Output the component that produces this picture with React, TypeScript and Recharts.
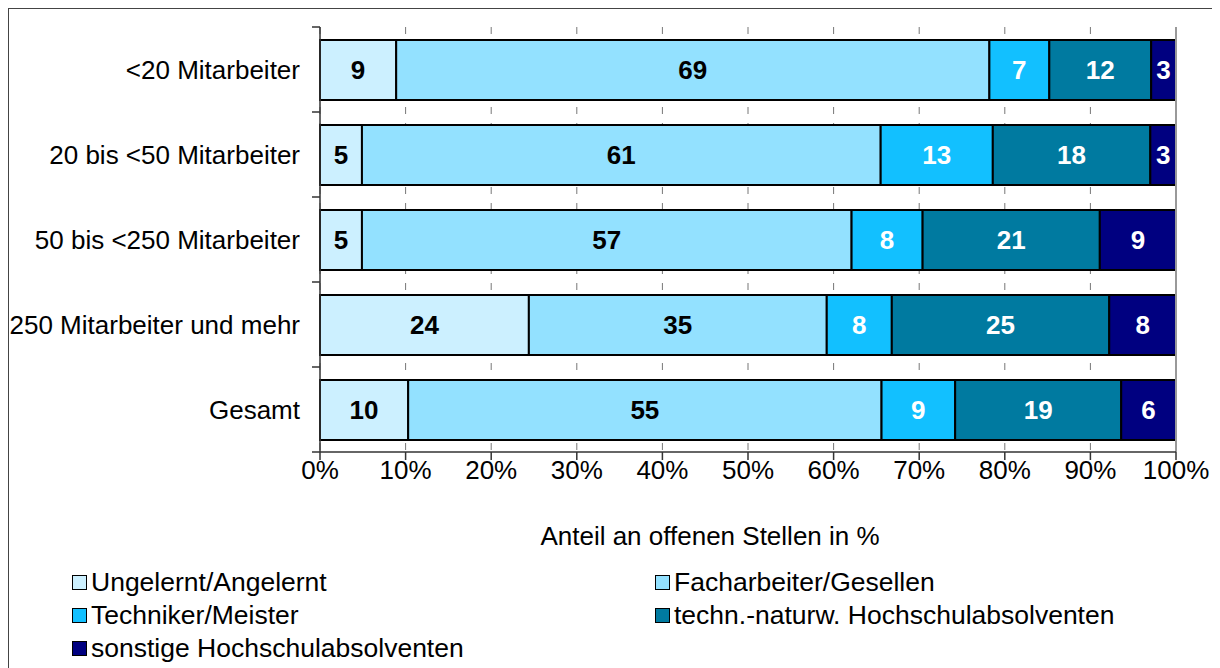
import { Bar, BarChart, CartesianGrid, LabelList, Legend, ReferenceLine, XAxis, YAxis } from "recharts";

// Anteil an offenen Stellen in %
const categories = [
  "<20 Mitarbeiter",
  "20 bis <50 Mitarbeiter",
  "50 bis <250 Mitarbeiter",
  "250 Mitarbeiter und mehr",
  "Gesamt",
];
const ungelernt = [8.9, 4.9, 4.9, 24.4, 10.3];
const facharbeiter = [69.3, 60.6, 57.2, 34.8, 55.3];
const techniker = [7.0, 13.1, 8.3, 7.6, 8.6];
const hochschulTechn = [11.9, 18.4, 20.7, 25.4, 19.4];
const hochschulSonst = [2.9, 3.0, 8.9, 7.8, 6.4];
const xTicks = [0, 10, 20, 30, 40, 50, 60, 70, 80, 90, 100];

const FONT = '"Liberation Sans", Arial, sans-serif';

const series = [
  { key: "u", name: "Ungelernt/Angelernt", fill: "#CCF0FF", text: "#000" },
  { key: "f", name: "Facharbeiter/Gesellen", fill: "#93E1FF", text: "#000" },
  { key: "t", name: "Techniker/Meister", fill: "#12C0FF", text: "#fff" },
  { key: "h", name: "techn.-naturw. Hochschulabsolventen", fill: "#007AA0", text: "#fff" },
  { key: "s", name: "sonstige Hochschulabsolventen", fill: "#000080", text: "#fff" },
];

const data = categories.map((name, i) => ({
  name,
  u: ungelernt[i],
  f: facharbeiter[i],
  t: techniker[i],
  h: hochschulTechn[i],
  s: hochschulSonst[i],
}));

const TICK_SIZE = 8;
const TICK_MARGIN = 12;

function YTick(props: any) {
  const { x, y, payload, index, visibleTicksCount } = props;
  const half = payload && payload.offset ? payload.offset : 42.5;
  const axisX = x + TICK_SIZE + TICK_MARGIN;
  const last = index === visibleTicksCount - 1;
  return (
    <g>
      <line x1={axisX - TICK_SIZE} x2={axisX} y1={y - half} y2={y - half} stroke="#333" strokeWidth={1.5} />
      {last && <line x1={axisX - TICK_SIZE} x2={axisX} y1={y + half} y2={y + half} stroke="#333" strokeWidth={1.5} />}
      <text x={x} y={y} dy="0.35em" textAnchor="end" fontSize={26} fontFamily={FONT} fill="#000">
        {payload.value}
      </text>
    </g>
  );
}

// eigene Legende, damit die Reihenfolge der Reihen erhalten bleibt
function LegendGrid() {
  return (
    <div
      style={{
        display: "grid",
        gridTemplateColumns: "583px auto",
        fontFamily: FONT,
        fontSize: 26.5,
        color: "#000",
        paddingLeft: 63,
      }}
    >
      {series.map((s) => (
        <div key={s.key} style={{ display: "flex", alignItems: "center", height: 33 }}>
          <span
            style={{
              display: "inline-block",
              width: 13,
              height: 13,
              background: s.fill,
              border: "1.5px solid #000",
              marginRight: 4,
            }}
          />
          <span>{s.name}</span>
        </div>
      ))}
    </div>
  );
}

export default function App() {
  return (
    <div style={{ width: 1209, height: 680, border: "1px solid #444", background: "#fff" }}>
      <BarChart
        width={1209}
        height={659}
        data={data}
        layout="vertical"
        barSize={60}
        margin={{ top: 18, right: 42, bottom: 6, left: 0 }}
        style={{ fontFamily: FONT }}
      >
        <CartesianGrid horizontal={false} stroke="#777" strokeDasharray="7 9" />
        <XAxis
          type="number"
          domain={[0, 100]}
          ticks={xTicks}
          tickFormatter={(v: number) => `${v}%`}
          tickSize={TICK_SIZE}
          tickMargin={1}
          tick={{ fontSize: 26, fill: "#000", fontFamily: FONT }}
          axisLine={{ stroke: "#333", strokeWidth: 1.5 }}
          tickLine={{ stroke: "#333", strokeWidth: 1.5 }}
          height={110}
          label={(p: any) => {
            const vb = p.viewBox || {};
            return (
              <text
                x={vb.x + vb.width / 2 - 38}
                y={vb.y + 93}
                textAnchor="middle"
                fontSize={26}
                fontFamily={FONT}
                fill="#000"
              >
                Anteil an offenen Stellen in %
              </text>
            );
          }}
        />
        <YAxis
          type="category"
          dataKey="name"
          width={311}
          tickSize={TICK_SIZE}
          tickMargin={TICK_MARGIN}
          tickLine={false}
          axisLine={{ stroke: "#333", strokeWidth: 1.5 }}
          tick={<YTick />}
          interval={0}
        />
        <ReferenceLine x={100} stroke="#999" strokeWidth={2} />
        {series.map((s) => (
          <Bar
            key={s.key}
            dataKey={s.key}
            name={s.name}
            stackId="a"
            fill={s.fill}
            stroke="#000"
            strokeWidth={2}
            isAnimationActive={false}
          >
            <LabelList
              dataKey={s.key}
              position="center"
              formatter={(v: any) => Math.round(Number(v))}
              fill={s.text}
              fontSize={26}
              fontWeight="bold"
              fontFamily={FONT}
            />
          </Bar>
        ))}
        <Legend
          verticalAlign="bottom"
          content={<LegendGrid />}
          wrapperStyle={{ top: 557, left: 0, width: 1209, height: 100 }}
        />
      </BarChart>
    </div>
  );
}
